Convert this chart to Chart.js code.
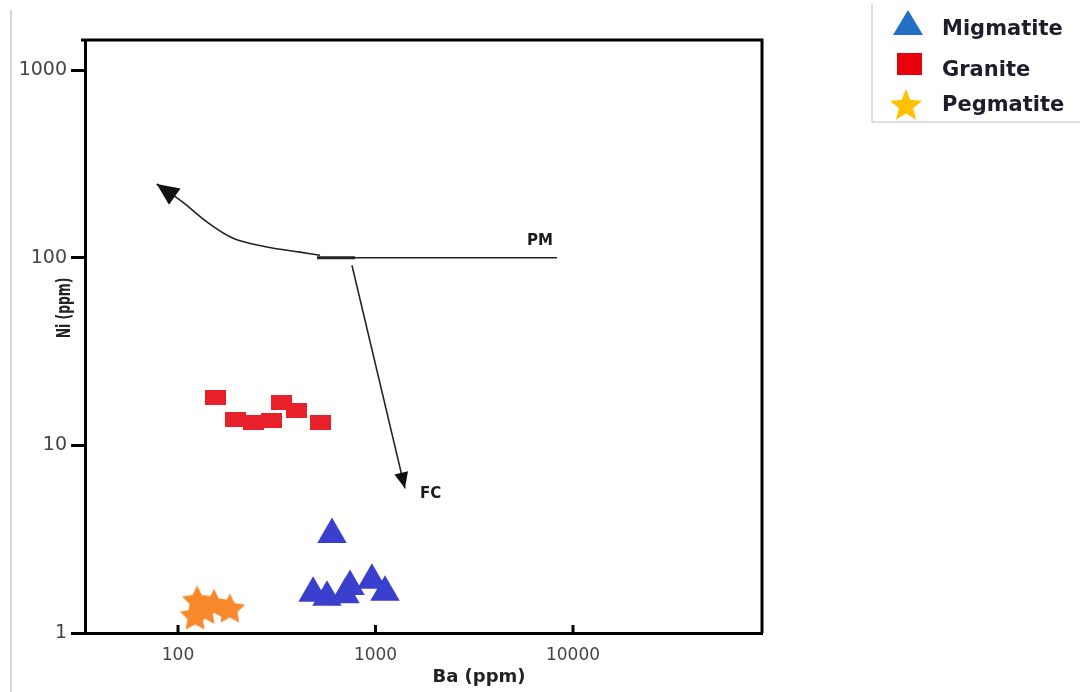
<!DOCTYPE html>
<html>
<head>
<meta charset="utf-8">
<script src="https://cdn.jsdelivr.net/npm/chart.js@4.4.1/dist/chart.umd.min.js"></script>
<style>
  html, body { margin: 0; padding: 0; background: #fff; }
  #wrap { width: 1085px; height: 692px; }
</style>
</head>
<body>
<div id="wrap"><canvas id="chart" width="1085" height="692"></canvas></div>
<script>
// Ba (ppm) on x, Ni (ppm) on y, both log
var migmatiteBa = [602, 483, 568, 743, 701, 959, 1117];
var migmatiteNi = [3.35, 1.63, 1.55, 1.77, 1.60, 1.91, 1.65];
var graniteBa = [154, 195, 240, 299, 336, 396, 529];
var graniteNi = [18.0, 13.8, 13.2, 13.6, 17.0, 15.4, 13.2];
var pegmatiteBa = [125, 122, 152, 183, 137];
var pegmatiteNi = [1.49, 1.24, 1.43, 1.35, 1.33];

// trend lines (PM = partial melting, FC = fractional crystallisation)
var pmLineBa = [506, 8300];
var pmLineNi = [100, 100];
var pmCoreBa = [506, 787];
var pmCoreNi = [100, 100];
var curveBa = [524, 415, 282, 190, 140, 106, 78];
var curveNi = [103, 107, 114, 127, 155, 197, 247];
var fcBa = [760, 1409];
var fcNi = [91, 5.9];

var noteTexts = ['PM', 'FC'];
var noteBa = [5850, 1680];
var noteNi = [122, 5.5];

var xTicks = [100, 1000, 10000];
var yTicks = [1, 10, 100, 1000];

var seriesNames = ['Migmatite', 'Granite', 'Pegmatite'];

function toPoints(xs, ys) {
    return xs.map(function(x, i) { return { x: x, y: ys[i] }; });
}

function starPath(ctx, cx, cy, outer, inner) {
    ctx.beginPath();
    for (var i = 0; i < 10; i++) {
        var r = i % 2 === 0 ? outer : inner;
        var a = -Math.PI / 2 + i * Math.PI / 5;
        var px = cx + r * Math.cos(a), py = cy + r * Math.sin(a);
        if (i === 0) ctx.moveTo(px, py); else ctx.lineTo(px, py);
    }
    ctx.closePath();
}

// marker images
function starImage(color, r) {
    var c = document.createElement('canvas');
    c.width = c.height = Math.ceil(r * 2 + 2);
    var g = c.getContext('2d');
    g.fillStyle = color;
    starPath(g, c.width / 2, c.height / 2 + 1, r, r * 0.5);
    g.fill();
    return c;
}

function rectImage(color, w, h) {
    var c = document.createElement('canvas');
    c.width = w;
    c.height = h;
    var g = c.getContext('2d');
    g.fillStyle = color;
    g.fillRect(0, 0, w, h);
    return c;
}

var extras = {
    id: 'extras',
    afterDatasetsDraw: function(chart) {
        var ctx = chart.ctx;
        ctx.save();
        ctx.fillStyle = '#111';
        chart.data.datasets.forEach(function(ds, i) {
            if (!ds.arrow) return;
            var pts = chart.getDatasetMeta(i).data;
            var to = pts[pts.length - 1], from = pts[pts.length - 2];
            var ang = Math.atan2(to.y - from.y, to.x - from.x);
            var len = ds.arrow[0], hw = ds.arrow[1];
            ctx.beginPath();
            ctx.moveTo(to.x, to.y);
            ctx.lineTo(to.x - len * Math.cos(ang) + hw * Math.sin(ang), to.y - len * Math.sin(ang) - hw * Math.cos(ang));
            ctx.lineTo(to.x - len * Math.cos(ang) - hw * Math.sin(ang), to.y - len * Math.sin(ang) + hw * Math.cos(ang));
            ctx.closePath();
            ctx.fill();
        });
        ctx.restore();
    },
    afterDraw: function(chart) {
        var ctx = chart.ctx, a = chart.chartArea;
        var xs = chart.scales.x, ys = chart.scales.y;
        ctx.save();

        // page edge line on the left
        ctx.strokeStyle = '#c8c8c8';
        ctx.lineWidth = 1.5;
        ctx.beginPath();
        ctx.moveTo(11, 10);
        ctx.lineTo(11, 692);
        ctx.stroke();

        // frame top and right
        ctx.strokeStyle = '#000';
        ctx.lineWidth = 3;
        ctx.beginPath();
        ctx.moveTo(a.left - 4, a.top);
        ctx.lineTo(a.right, a.top);
        ctx.lineTo(a.right, a.bottom);
        ctx.stroke();

        // inward x ticks
        xTicks.forEach(function(v) {
            var px = xs.getPixelForValue(v);
            ctx.beginPath();
            ctx.moveTo(px, a.bottom);
            ctx.lineTo(px, a.bottom - 8);
            ctx.stroke();
        });

        // PM / FC notes
        ctx.fillStyle = '#1a1a1a';
        ctx.font = 'bold 15px "DejaVu Sans"';
        ctx.textBaseline = 'middle';
        ctx.textAlign = 'left';
        noteTexts.forEach(function(t, i) {
            ctx.fillText(t, xs.getPixelForValue(noteBa[i]), ys.getPixelForValue(noteNi[i]));
        });

        // axis titles
        ctx.fillStyle = '#222';
        ctx.textAlign = 'center';
        ctx.font = 'bold 18px "DejaVu Sans"';
        ctx.fillText('Ba (ppm)', 479, 677);
        ctx.translate(65, 308);
        ctx.rotate(-Math.PI / 2);
        ctx.scale(0.65, 1);
        ctx.font = 'bold 19px "DejaVu Sans"';
        ctx.fillText('Ni (ppm)', 0, 0);
        ctx.restore();

        // legend
        ctx.save();
        ctx.strokeStyle = '#d4d4d4';
        ctx.lineWidth = 1.5;
        ctx.beginPath();
        ctx.moveTo(872, 4);
        ctx.lineTo(872, 122);
        ctx.lineTo(1080, 122);
        ctx.stroke();

        ctx.fillStyle = '#2270c4';
        ctx.beginPath();
        ctx.moveTo(908, 10);
        ctx.lineTo(923, 35);
        ctx.lineTo(893, 35);
        ctx.closePath();
        ctx.fill();

        ctx.fillStyle = '#e8000b';
        ctx.fillRect(897, 53, 25, 22);

        ctx.fillStyle = '#ffc000';
        starPath(ctx, 906, 106, 17, 7.5);
        ctx.fill();

        ctx.fillStyle = '#1d1d2b';
        ctx.font = 'bold 21px "DejaVu Sans"';
        ctx.textAlign = 'left';
        ctx.textBaseline = 'middle';
        var ly = [30, 71, 106];
        seriesNames.forEach(function(n, i) { ctx.fillText(n, 942, ly[i]); });
        ctx.restore();
    }
};

var lineStyle = { showLine: true, pointRadius: 0, borderColor: '#222', fill: false };

new Chart(document.getElementById('chart'), {
    type: 'scatter',
    data: {
        datasets: [
            Object.assign({ label: 'PM', data: toPoints(pmLineBa, pmLineNi), borderWidth: 1.5 }, lineStyle),
            Object.assign({ label: 'PM core', data: toPoints(pmCoreBa, pmCoreNi), borderWidth: 3 }, lineStyle),
            Object.assign({ label: 'melt curve', data: toPoints(curveBa, curveNi), borderWidth: 1.6, tension: 0.35, arrow: [22, 10] }, lineStyle),
            Object.assign({ label: 'FC', data: toPoints(fcBa, fcNi), borderWidth: 1.6, arrow: [16, 7] }, lineStyle),
            {
                label: seriesNames[0],
                data: toPoints(migmatiteBa, migmatiteNi),
                pointStyle: 'triangle',
                pointRadius: 17,
                backgroundColor: '#3b3fcd',
                borderColor: '#3b3fcd',
                borderWidth: 0
            },
            {
                label: seriesNames[1],
                data: toPoints(graniteBa, graniteNi),
                pointStyle: rectImage('#e8202a', 21, 15),
                pointRadius: 10
            },
            {
                label: seriesNames[2],
                data: toPoints(pegmatiteBa, pegmatiteNi),
                pointStyle: starImage('#f7882b', 16),
                pointRadius: 10
            }
        ]
    },
    options: {
        responsive: false,
        animation: false,
        layout: { padding: { top: 40, right: 323, left: 0, bottom: 0 } },
        plugins: {
            legend: { display: false },
            tooltip: { enabled: false }
        },
        scales: {
            x: {
                type: 'logarithmic',
                min: 33.8,
                max: 90600,
                afterFit: function(scale) { scale.height = 59; },
                afterBuildTicks: function(scale) {
                    scale.ticks = xTicks.map(function(v) { return { value: v }; });
                },
                grid: { drawOnChartArea: false, drawTicks: false },
                border: { display: true, color: '#000', width: 3 },
                ticks: {
                    padding: 12,
                    color: '#444',
                    font: { family: 'DejaVu Sans', size: 17 },
                    maxRotation: 0,
                    callback: function(v) { return String(v); }
                }
            },
            y: {
                type: 'logarithmic',
                min: 1,
                max: 1445,
                afterFit: function(scale) { scale.width = 85; },
                afterBuildTicks: function(scale) {
                    scale.ticks = yTicks.map(function(v) { return { value: v }; });
                },
                grid: {
                    drawOnChartArea: false,
                    drawTicks: true,
                    tickLength: 14,
                    tickWidth: 3,
                    tickColor: '#000'
                },
                border: { display: true, color: '#000', width: 3 },
                ticks: {
                    padding: 4,
                    color: '#444',
                    font: { family: 'DejaVu Sans', size: 19 },
                    callback: function(v) { return String(v); }
                }
            }
        }
    },
    plugins: [extras]
});
</script>
</body>
</html>
